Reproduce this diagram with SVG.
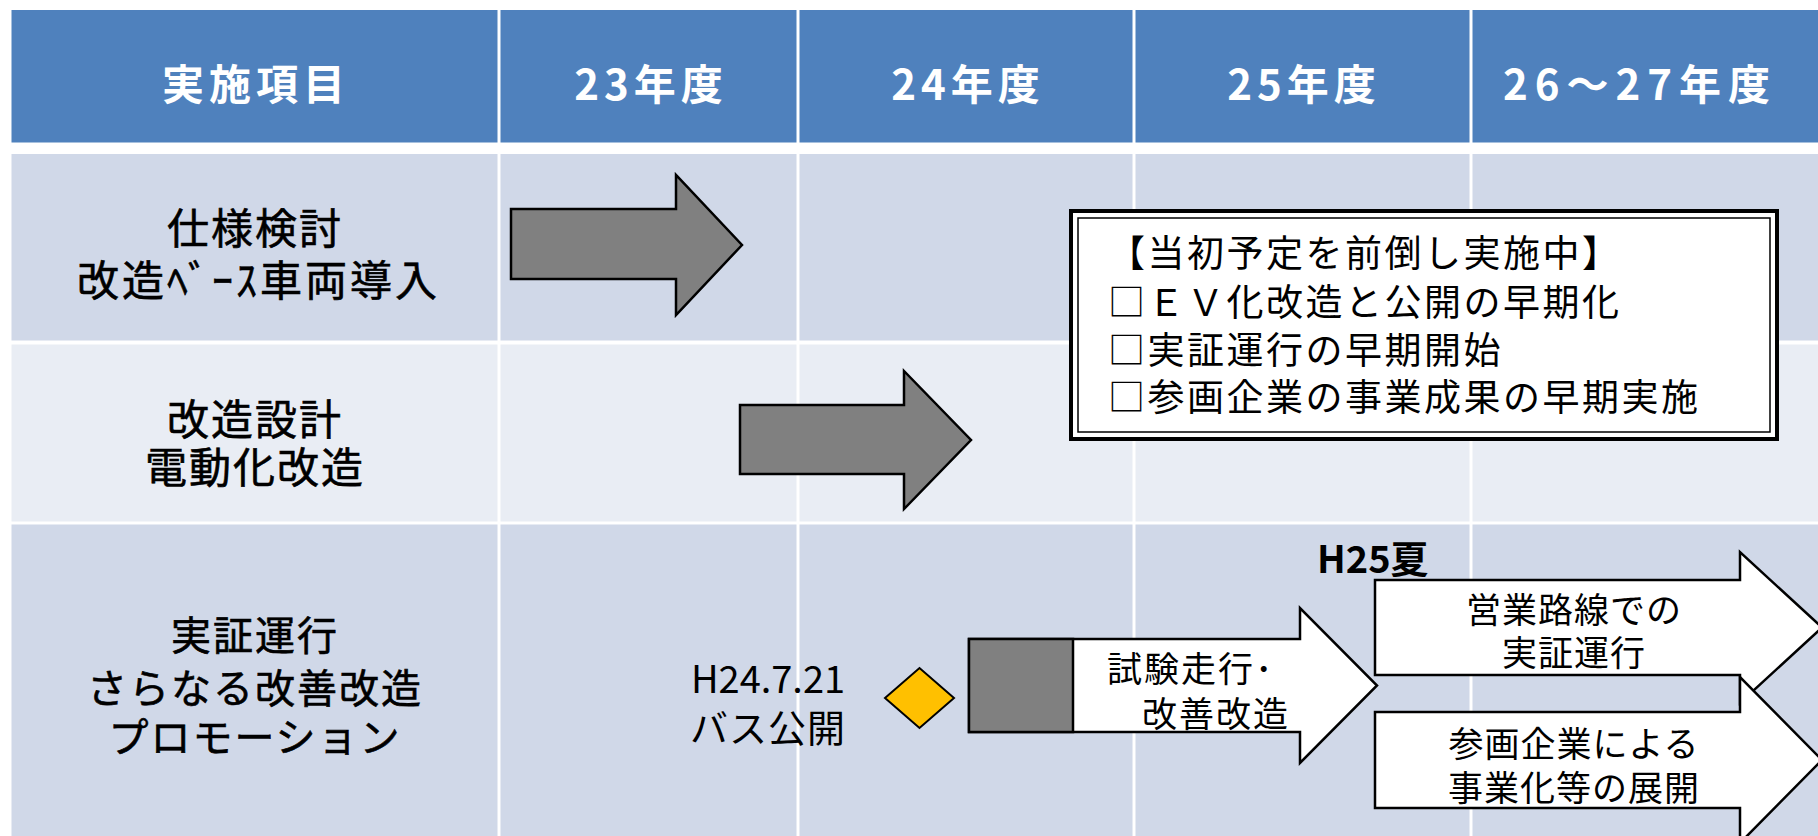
<svg xmlns="http://www.w3.org/2000/svg" width="1818" height="836" viewBox="0 0 1818 836">
<style>
text{font-family:"Noto Sans CJK JP","Noto Sans",sans-serif;dominant-baseline:central;fill:#000}
.hd{fill:#4F81BD}
.r1{fill:#D0D8E8}
.r2{fill:#E9EDF4}
.ht{fill:#fff;font-weight:bold;font-size:42px;letter-spacing:5px;text-anchor:middle}
.lb{font-size:40px;letter-spacing:2px;text-anchor:middle;stroke:#000;stroke-width:0.6px}
.lb42{font-size:42px}
.cl{font-size:37px;letter-spacing:2.5px}
.at{font-size:35px;letter-spacing:2px}
.atm{font-size:35px;letter-spacing:1px;text-anchor:middle}
.gray{fill:#808080;stroke:#000;stroke-width:2.5;stroke-linejoin:miter}
.wht{fill:#fff;stroke:#000;stroke-width:2.5;stroke-linejoin:miter}
</style>
<rect width="1818" height="836" fill="#fff"/>
<g id="table">
<rect class="hd" x="11.5" y="10" width="486" height="132.5"/>
<rect class="hd" x="500.5" y="10" width="296" height="132.5"/>
<rect class="hd" x="799.5" y="10" width="333" height="132.5"/>
<rect class="hd" x="1135.5" y="10" width="334" height="132.5"/>
<rect class="hd" x="1472.5" y="10" width="346" height="132.5"/>
<rect class="r1" x="11.5" y="154" width="486" height="186.5"/>
<rect class="r1" x="500.5" y="154" width="296" height="186.5"/>
<rect class="r1" x="799.5" y="154" width="333" height="186.5"/>
<rect class="r1" x="1135.5" y="154" width="334" height="186.5"/>
<rect class="r1" x="1472.5" y="154" width="346" height="186.5"/>
<rect class="r2" x="11.5" y="344.5" width="486" height="177"/>
<rect class="r2" x="500.5" y="344.5" width="296" height="177"/>
<rect class="r2" x="799.5" y="344.5" width="333" height="177"/>
<rect class="r2" x="1135.5" y="344.5" width="334" height="177"/>
<rect class="r2" x="1472.5" y="344.5" width="346" height="177"/>
<rect class="r1" x="11.5" y="524.5" width="486" height="312"/>
<rect class="r1" x="500.5" y="524.5" width="296" height="312"/>
<rect class="r1" x="799.5" y="524.5" width="333" height="312"/>
<rect class="r1" x="1135.5" y="524.5" width="334" height="312"/>
<rect class="r1" x="1472.5" y="524.5" width="346" height="312"/>
</g>
<g id="header-text">
<text class="ht" x="256" y="81">実施項目</text>
<text class="ht" x="651" y="81">23年度</text>
<text class="ht" x="968" y="81">24年度</text>
<text class="ht" x="1304" y="81">25年度</text>
<text class="ht" x="1640" y="81" style="letter-spacing:7px">26～27年度</text>
</g>
<g id="row1-label">
<text class="lb lb42" x="255" y="225">仕様検討</text>
<text class="lb lb42" x="77" y="277" style="letter-spacing:3px;text-anchor:start">改造ﾍﾞｰｽ車両導入</text>
</g>
<g id="row2-label">
<text class="lb lb42" x="255" y="416">改造設計</text>
<text class="lb lb42" x="255" y="464">電動化改造</text>
</g>
<g id="row3-label">
<text class="lb" x="255" y="633">実証運行</text>
<text class="lb" x="255" y="686">さらなる改善改造</text>
<text class="lb" x="255" y="735">プロモーション</text>
</g>
<g id="arrow-spec">
<polygon class="gray" points="511,209 676,209 676,175 742,245 676,315 676,279 511,279"/>
</g>
<g id="arrow-design">
<polygon class="gray" points="740,405 904,405 904,371 971,440 904,509 904,474 740,474"/>
</g>
<g id="callout">
<rect x="1071" y="211" width="706" height="228" fill="#fff" stroke="#000" stroke-width="4"/>
<rect x="1078" y="218" width="692" height="214" fill="none" stroke="#000" stroke-width="1.5"/>
<text class="cl" x="1108" y="251">【当初予定を前倒し実施中】</text>
<text class="cl" x="1108" y="300">□ＥＶ化改造と公開の早期化</text>
<text class="cl" x="1108" y="348">□実証運行の早期開始</text>
<text class="cl" x="1108" y="395">□参画企業の事業成果の早期実施</text>
</g>
<g id="milestone-bus">
<polygon points="885,698 919.5,668 954,698 919.5,728" fill="#FFC000" stroke="#000" stroke-width="2"/>
<text class="atm" x="768" y="676" style="font-size:38px;letter-spacing:0">H24.7.21</text>
<text class="atm" x="768" y="725" style="font-size:38px">バス公開</text>
</g>
<g id="arrow-trial">
<polygon class="wht" points="969,639 1300,639 1300,608 1377,685.5 1300,763 1300,732 969,732"/>
<rect x="969" y="639" width="104" height="93" fill="#808080" stroke="#000" stroke-width="2.5"/>
<text class="at" x="1107" y="666">試験走行･</text>
<text class="at" x="1142" y="711">改善改造</text>
</g>
<g id="label-h25">
<text x="1317" y="556" style="font-size:38px;font-weight:bold">H25夏</text>
</g>
<g id="arrow-route">
<polygon class="wht" points="1375,580 1740,580 1740,552 1822,627.5 1740,703 1740,675 1375,675"/>
<text class="atm" x="1574" y="607">営業路線での</text>
<text class="atm" x="1574" y="650">実証運行</text>
</g>
<g id="arrow-business">
<polygon class="wht" points="1375,712 1740,712 1740,677 1822,760 1740,843 1740,808 1375,808"/>
<text class="atm" x="1574" y="741">参画企業による</text>
<text class="atm" x="1574" y="785">事業化等の展開</text>
</g>
<g id="connectors"></g>
</svg>
